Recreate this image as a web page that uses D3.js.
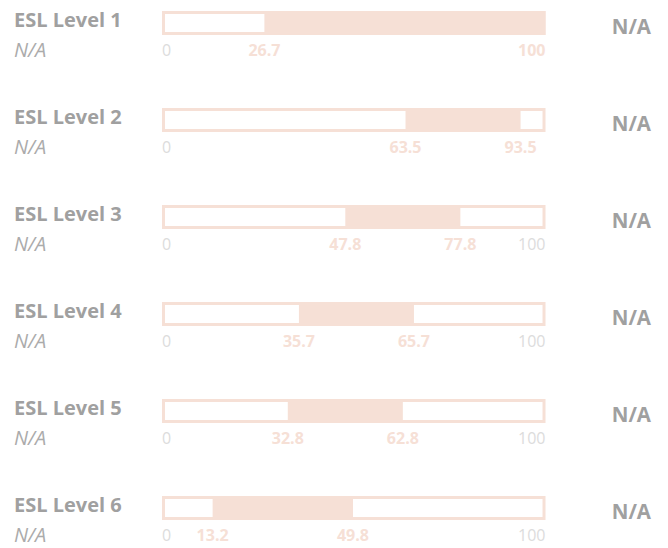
<!DOCTYPE html>
<html>
<head>
<meta charset="utf-8">
<script src="https://cdn.jsdelivr.net/npm/d3@7"></script>
<style>
  html, body { margin: 0; padding: 0; background: #fff; }
  svg { display: block; }
</style>
</head>
<body>
<svg id="chart" width="668" height="548"></svg>
<script>
const categories = ["ESL Level 1", "ESL Level 2", "ESL Level 3", "ESL Level 4", "ESL Level 5", "ESL Level 6"];
const subtitles = ["N/A", "N/A", "N/A", "N/A", "N/A", "N/A"];
const lowValues = [26.7, 63.5, 47.8, 35.7, 32.8, 13.2];
const highValues = [100, 93.5, 77.8, 65.7, 62.8, 49.8];
const rightLabels = ["N/A", "N/A", "N/A", "N/A", "N/A", "N/A"];
const axisMin = 0, axisMax = 100;

const peach = "#f6e0d6";
const grayText = "#a0a0a0";
const tickGray = "#dcdcdc";
const font = "'Open Sans', Lato, sans-serif";

const svg = d3.select("#chart");
const x = d3.scaleLinear().domain([axisMin, axisMax]).range([162, 545.5]);
const y = d3.scaleBand().domain(categories).range([11, 593]);
const barH = 24;

const rows = svg.selectAll("g.row")
  .data(categories.map((c, i) => ({c, sub: subtitles[i], lo: lowValues[i], hi: highValues[i], r: rightLabels[i]})))
  .join("g").attr("class", "row")
  .attr("transform", d => `translate(0,${y(d.c)})`);

// outer bar frame
rows.append("rect")
  .attr("x", x(axisMin) + 1.5).attr("y", 1.5)
  .attr("width", x(axisMax) - x(axisMin) - 3).attr("height", barH - 3)
  .attr("fill", "#fff").attr("stroke", peach).attr("stroke-width", 3);

// filled range
rows.append("rect")
  .attr("x", d => x(d.lo)).attr("y", 0)
  .attr("width", d => x(d.hi) - x(d.lo)).attr("height", barH)
  .attr("fill", peach);

// min/max axis labels
rows.append("text")
  .attr("x", x(axisMin)).attr("y", 45)
  .attr("font-family", font).attr("font-size", 16).attr("fill", tickGray)
  .text(axisMin);
rows.filter(d => d.hi < 90).append("text")
  .attr("x", x(axisMax)).attr("y", 45).attr("text-anchor", "end")
  .attr("font-family", font).attr("font-size", 16).attr("fill", tickGray)
  .text(axisMax);

// value labels
function valLabel(sel, key) {
  sel.append("text")
    .attr("x", d => d[key] >= axisMax ? x(axisMax) : x(d[key]))
    .attr("y", 45)
    .attr("text-anchor", d => d[key] >= axisMax ? "end" : "middle")
    .attr("font-family", font).attr("font-size", 16).attr("font-weight", 700)
    .attr("fill", peach)
    .text(d => d[key]);
}
valLabel(rows, "lo");
valLabel(rows, "hi");

// left labels
rows.append("text")
  .attr("x", 14).attr("y", 16)
  .attr("font-family", font).attr("font-size", 20).attr("font-weight", 700)
  .attr("fill", grayText)
  .text(d => d.c);
rows.append("text")
  .attr("x", 14).attr("y", 46)
  .attr("font-family", font).attr("font-size", 20).attr("font-style", "italic").attr("font-weight", 400)
  .attr("fill", "#ababab")
  .text(d => d.sub);

// right labels
rows.append("text")
  .attr("x", 651).attr("y", 23).attr("text-anchor", "end")
  .attr("font-family", font).attr("font-size", 20.5).attr("font-weight", 700)
  .attr("fill", grayText)
  .text(d => d.r);
</script>
</body>
</html>
